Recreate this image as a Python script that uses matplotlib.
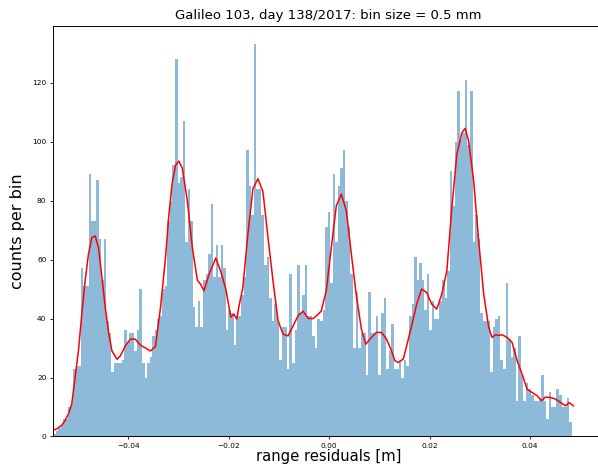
import numpy as np
import matplotlib
matplotlib.use("Agg")
import matplotlib.pyplot as plt

# histogram counts per 0.5 mm bin
counts = [1, 2, 3, 4, 6, 6, 10, 11, 23, 24, 24, 57, 51, 51, 89, 73, 73, 87, 67, 53,
          67, 39, 35, 22, 25, 25, 25, 26, 36, 32, 35, 35,
          29, 36, 50, 25, 20, 25, 27, 34, 36, 40, 41, 50, 51, 73, 80, 92, 128, 86, 88, 107,
          66, 84, 73, 44, 37, 46, 37, 53, 55, 62, 79, 54, 65, 54, 65,
          57, 36, 43, 42, 31, 41, 41, 48, 54, 97, 85, 75, 133, 84, 84, 75, 58, 61, 47, 39,
          45, 39, 26, 37, 37, 23, 55, 25, 36, 58, 42, 48, 58, 41, 41, 34, 30, 40,
          39, 43, 71, 76, 52, 89, 66, 85, 91, 97, 80, 71, 55, 30, 49, 30, 35, 35, 21, 49,
          35, 35, 41, 21, 42, 47, 23, 29, 38, 23, 23, 26, 20, 26, 24, 41,
          45, 61, 53, 59, 53, 43, 55, 36, 46, 40, 40, 46, 53, 47, 56, 90, 78, 100, 117, 101,
          103, 121, 99, 117, 66, 75, 67, 42, 39, 39, 39, 22, 37, 40, 41, 26,
          23, 52, 33, 27, 30, 12, 34, 21, 12, 18, 16, 14, 12, 12, 13, 21, 12, 6, 15, 10,
          10, 16, 14, 10, 10, 13, 5]
hist_range = [-0.0550, 0.04826]

# smoothed curve (red)
smooth_x = [-0.05520, -0.05426, -0.05326, -0.05260, -0.05194, -0.05126, -0.05060, -0.04994, -0.04926, -0.04860,
            -0.04794, -0.04726, -0.04660, -0.04594, -0.04526, -0.04460, -0.04394, -0.04326, -0.04226, -0.04160,
            -0.04060, -0.03960, -0.03860, -0.03760, -0.03660, -0.03560, -0.03460, -0.03360, -0.03260, -0.03194,
            -0.03126, -0.03060, -0.02994, -0.02926, -0.02826, -0.02726, -0.02626, -0.02560, -0.02494, -0.02394,
            -0.02260, -0.02160, -0.02060, -0.01960, -0.01900, -0.01840, -0.01800, -0.01720, -0.01620, -0.01520,
            -0.01420, -0.01320, -0.01220, -0.01120, -0.01020, -0.00920, -0.00820, -0.00720, -0.00620, -0.00520,
            -0.00420, -0.00320, -0.00220, -0.00160, -0.00060, 0.00040, 0.00140, 0.00240, 0.00340, 0.00440,
            0.00540, 0.00640, 0.00726, 0.00840, 0.00940, 0.01040, 0.01140, 0.01240, 0.01306, 0.01374,
            0.01474, 0.01574, 0.01640, 0.01740, 0.01840, 0.01940, 0.02040, 0.02140, 0.02240, 0.02340,
            0.02440, 0.02540, 0.02640, 0.02706, 0.02774, 0.02874, 0.02974, 0.03074, 0.03174, 0.03240,
            0.03306, 0.03380, 0.03440, 0.03540, 0.03640, 0.03740, 0.03840, 0.03940, 0.04040, 0.04140,
            0.04226, 0.04306, 0.04406, 0.04506, 0.04606, 0.04706, 0.04774, 0.04860]
smooth_y = [2.0, 2.6, 3.8, 5.4, 7.6, 11, 20, 29, 41.5, 52.8,
            61.8, 67.5, 68, 64, 54, 43.8, 35.3, 29, 26.2, 27.3,
            30.7, 33, 33, 31, 30, 29, 30.5, 43.7, 60.6, 75,
            86, 92, 93.4, 91, 80, 64, 53, 51.6, 49.4, 55,
            60.5, 56, 50, 40.5, 41.5, 39.8, 44, 50.5, 68.6, 84,
            87.4, 83, 67.5, 52.8, 39.3, 34.7, 34.1, 37.5, 41, 42.5,
            40, 40, 41.5, 42.5, 49.4, 64, 78.2, 82.2, 76.5, 61.8,
            47.7, 36.4, 31.3, 33.6, 35.3, 35.3, 33, 29, 25.7, 25.1,
            26.3, 33, 37.5, 44.9, 50, 48.8, 44.9, 43.2, 48.3, 56.1,
            77.6, 95.7, 103, 104.5, 100.2, 86.7, 66.4, 48.3, 37, 33.6,
            34.5, 34.3, 34.5, 33.6, 31.9, 25.7, 21.1, 16, 14.9, 13.8,
            12.1, 13.4, 13.2, 12.7, 11.5, 10.4, 11.5, 10.4]

x_ticks = [-0.04, -0.02, 0.00, 0.02, 0.04]
y_ticks = [0, 20, 40, 60, 80, 100, 120]

title = "Galileo 103, day 138/2017: bin size = 0.5 mm"
xlabel = "range residuals [m]"
ylabel = "counts per bin"

fig = plt.figure(figsize=(5.98, 4.65), dpi=100)
ax = fig.add_axes([0.0881, 0.0613, 0.922, 0.8834])

edges = np.linspace(hist_range[0], hist_range[1], len(counts) + 1)
centers = 0.5 * (edges[:-1] + edges[1:])
ax.hist(centers, bins=edges, weights=counts, color="C0", alpha=0.5)
ax.plot(smooth_x, smooth_y, color="red", linewidth=1.1)

ax.set_xlim(-0.05506, 0.0547)
ax.set_ylim(0, 139.3)
ax.set_xticks(x_ticks)
ax.set_xticklabels([f"{v:.2f}".replace("-", "\u2212") for v in x_ticks])
ax.set_yticks(y_ticks)
ax.tick_params(labelsize=5.3, length=2.5, width=0.6, pad=2)
for s in ax.spines.values():
    s.set_linewidth(0.7)
ax.set_title(title, fontsize=9.5, pad=5)
ax.set_xlabel(xlabel, fontsize=10.6, labelpad=0.5)
ax.set_ylabel(ylabel, fontsize=11.5, labelpad=5)

fig.savefig("out.png", dpi=100)
